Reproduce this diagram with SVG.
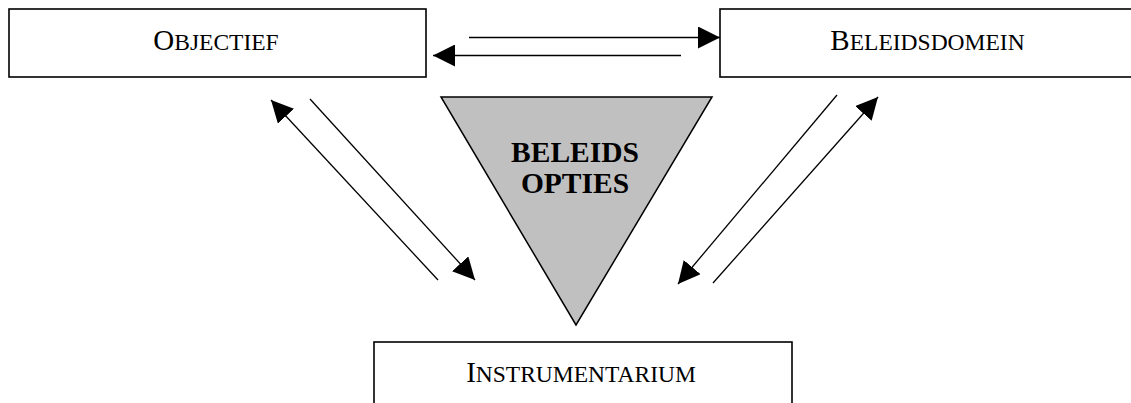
<svg xmlns="http://www.w3.org/2000/svg" width="1131" height="403" viewBox="0 0 1131 403">
<style>
.box{fill:#fff;stroke:#000;stroke-width:1.6}
.lbl{font-family:"Liberation Serif","Times New Roman",serif;font-size:29px;fill:#000}
.sc{font-size:23.5px}
.bold{font-family:"Liberation Serif","Times New Roman",serif;font-size:29.5px;font-weight:bold;fill:#000}
.con{stroke:#000;stroke-width:1.3;fill:none;marker-end:url(#ah)}
</style>
<defs>
<marker id="ah" markerUnits="userSpaceOnUse" markerWidth="22" markerHeight="22" viewBox="0 0 20 20" refX="20" refY="10" orient="auto">
<path d="M0,0 L20,10 L0,20 Z" fill="#000"/>
</marker>
</defs>
<g id="objectief">
<rect class="box" x="9" y="9" width="417" height="68"/>
<text class="lbl" x="216" y="50" text-anchor="middle">O<tspan class="sc">BJECTIEF</tspan></text>
</g>
<g id="beleidsdomein">
<rect class="box" x="720" y="9" width="430" height="68"/>
<text class="lbl" x="927.5" y="50" text-anchor="middle">B<tspan class="sc">ELEIDSDOMEIN</tspan></text>
</g>
<g id="beleidsopties">
<polygon points="441,97 712,97 576,325" fill="#c0c0c0" stroke="#000" stroke-width="1.5" stroke-linejoin="miter"/>
<text class="bold" x="575" y="162" text-anchor="middle">BELEIDS</text>
<text class="bold" x="575" y="193" text-anchor="middle">OPTIES</text>
</g>
<g id="instrumentarium">
<rect class="box" x="374" y="342" width="418" height="80"/>
<text class="lbl" x="581" y="382" text-anchor="middle">I<tspan class="sc">NSTRUMENTARIUM</tspan></text>
</g>
<g id="connectors">
<line class="con" x1="469" y1="37.5" x2="720" y2="37.5"/>
<line class="con" x1="681" y1="55.5" x2="433" y2="55.5"/>
<line class="con" x1="438" y1="280" x2="271" y2="100"/>
<line class="con" x1="310" y1="99" x2="475" y2="280"/>
<line class="con" x1="837" y1="95" x2="678" y2="284"/>
<line class="con" x1="713" y1="283" x2="878" y2="97"/>
</g>
</svg>
